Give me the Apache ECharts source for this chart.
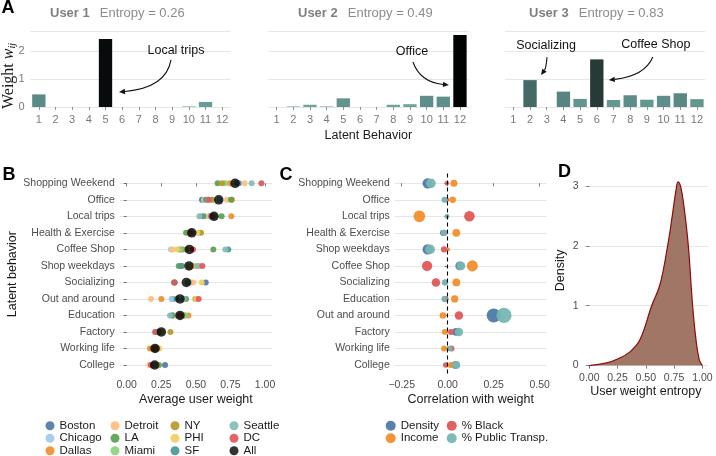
<!DOCTYPE html>
<html><head><meta charset="utf-8">
<script src="https://cdn.jsdelivr.net/npm/echarts@6/dist/echarts.min.js"></script>
<style>html,body{margin:0;padding:0;background:#fff}#c{width:716px;height:456px}</style>
</head><body><div id="c"></div>
<script>
// ---------- data ----------
const behaviorTicks = ['1','2','3','4','5','6','7','8','9','10','11','12'];
const user1Weights = [0.45, 0, 0, 0, 2.43, 0, 0, 0, 0, 0.02, 0.18, 0];
const user2Weights = [0, 0.02, 0.08, 0.02, 0.31, 0, 0, 0.08, 0.10, 0.40, 0.37, 2.57];
const user3Weights = [0, 0.96, 0, 0.55, 0.29, 1.70, 0.25, 0.42, 0.26, 0.40, 0.49, 0.28];
const userTitles = ['User 1', 'User 2', 'User 3'];
const userEntropies = ['0.26', '0.49', '0.83'];

const behaviorsB = ['Shopping Weekend','Office','Local trips','Health & Exercise','Coffee Shop','Shop weekdays','Socializing','Out and around','Education','Factory','Working life','College'];
const cityNames = ['Boston','Chicago','Dallas','Detroit','LA','Miami','NY','PHI','SF','Seattle','DC'];
const weightBoston  = [0.81, 0.544, 0.60, 0.46, 0.40, 0.46, 0.571, 0.33, 0.33, 0.217, 0.20, 0.277];
const weightChicago = [0.79, 0.674, 0.597, 0.522, 0.32, 0.508, 0.44, 0.325, 0.36, 0.23, 0.21, 0.19];
const weightDallas  = [0.746, 0.761, 0.756, 0.45, 0.38, 0.48, 0.46, 0.25, 0.446, 0.24, 0.168, 0.18];
const weightDetroit = [0.852, 0.725, 0.535, 0.446, 0.33, 0.525, 0.481, 0.176, 0.337, 0.25, 0.21, 0.164];
const weightLA      = [0.657, 0.754, 0.686, 0.429, 0.626, 0.376, 0.347, 0.429, 0.42, 0.24, 0.20, 0.233];
const weightMiami   = [0.713, 0.624, 0.633, 0.46, 0.392, 0.45, 0.44, 0.41, 0.424, 0.25, 0.21, 0.22];
const weightNY      = [0.689, 0.614, 0.62, 0.537, 0.43, 0.399, 0.443, 0.496, 0.38, 0.316, 0.185, 0.22];
const weightPHI     = [0.78, 0.559, 0.566, 0.51, 0.361, 0.47, 0.542, 0.503, 0.337, 0.26, 0.236, 0.21];
const weightSF      = [0.80, 0.573, 0.554, 0.47, 0.734, 0.394, 0.342, 0.36, 0.328, 0.23, 0.20, 0.20];
const weightSeattle = [0.903, 0.59, 0.525, 0.48, 0.713, 0.513, 0.45, 0.41, 0.313, 0.205, 0.21, 0.19];
const weightDC      = [0.973, 0.592, 0.611, 0.46, 0.479, 0.547, 0.345, 0.52, 0.39, 0.207, 0.21, 0.175];
const weightAll     = [0.783, 0.665, 0.631, 0.47, 0.453, 0.45, 0.431, 0.385, 0.385, 0.25, 0.205, 0.202];
const weightTicks = [0, 0.25, 0.5, 0.75, 1];

const behaviorsC = ['Shopping Weekend','Office','Local trips','Health & Exercise','Shop weekdays','Coffee Shop','Socializing','Education','Out and around','Factory','Working life','College'];
const corrNames = ['Density','Income','% Black','% Public Transp.'];
const corrDensity = [-0.109, -0.012, -0.004, -0.024, -0.109, 0.065, -0.014, -0.015, 0.25, 0.045, 0.008, 0.04];
const corrIncome  = [0.034, 0.027, -0.154, 0.047, 0.002, 0.134, 0.047, 0.038, -0.026, -0.016, -0.02, 0.018];
const corrBlack   = [-0.005, -0.002, 0.118, -0.018, -0.02, -0.112, -0.064, -0.008, 0.061, 0.018, 0.02, -0.011];
const corrTransit = [-0.091, -0.018, -0.005, -0.02, -0.096, 0.072, -0.016, -0.018, 0.306, 0.061, 0.012, 0.047];
const corrTicks = [-0.25, 0, 0.25, 0.5];

const entropyX       = [0, 0.153, 0.25, 0.36, 0.448, 0.552, 0.625, 0.693, 0.737, 0.767, 0.785, 0.808, 0.838, 0.876, 0.914, 0.944, 0.973, 1.0];
const entropyDensity = [0, 0.045, 0.11, 0.23, 0.43, 1.0, 1.35, 2.0, 2.54, 2.93, 3.07, 2.99, 2.65, 2.0, 1.0, 0.43, 0.095, 0];
const entropyTicks = [0, 0.25, 0.5, 0.75, 1];
const densityTicks = [0, 1, 2, 3];

// ---------- styling helpers ----------
const FONT = 'Liberation Sans, Arial, Helvetica, sans-serif';
const SERIF = 'Liberation Serif, Times New Roman, serif';
const cityColors = {Boston:'#4e79a7',Chicago:'#a0cbe8',Dallas:'#f28e2b',Detroit:'#ffbe7d',LA:'#59a14f',Miami:'#8cd17d',NY:'#b6992d',PHI:'#f1ce63',SF:'#499894',Seattle:'#86bcb6',DC:'#e15759',All:'#000000'};
const corrColors = ['#4e79a7','#f28e2b','#e15759','#76b7b2'];
const cityWeights = [weightBoston,weightChicago,weightDallas,weightDetroit,weightLA,weightMiami,weightNY,weightPHI,weightSF,weightSeattle,weightDC];
const corrSeries = [corrDensity, corrIncome, corrBlack, corrTransit];

function barColor(v){
  const lo=[110,168,162], t=Math.min(v/2.6,1);
  const c=lo.map(x=>Math.round(x*(1-t)));
  return 'rgb('+c.join(',')+')';
}
const gridLine = {show:true, lineStyle:{color:'#e6e6e6', width:1}};
const tickStyle = {lineStyle:{color:'#555', width:0.8}};

const grids = [
  {left:30.5, width:200, top:31.4, height:75.6},
  {left:268.3, width:200, top:31.4, height:75.6},
  {left:505, width:200.3, top:31.4, height:75.6},
  {left:119.8, width:152.2, top:173.4, height:201.5},
  {left:394.8, width:151.8, top:173.4, height:201.5},
  {left:583.6, width:124.4, top:172.8, height:195.2}
].map(g=>Object.assign({outerBoundsMode:'none', containLabel:false}, g));

const xAxes = [0,1,2].map(i=>({
  type:'category', gridIndex:i, data:behaviorTicks,
  axisLine:{show:false}, axisTick:{show:true, alignWithLabel:true, length:3, lineStyle:{color:'#777',width:0.8}},
  axisLabel:{color:'#7a7a7a', fontSize:11, margin:7, interval:0},
  name: i===1 ? 'Latent Behavior' : '', nameLocation:'middle', nameGap:22,
  nameTextStyle:{color:'#1a1a1a', fontSize:12.5}
}));
xAxes.push({
  type:'value', gridIndex:3, min:-0.05, max:1.05,
  axisLine:{show:false}, splitLine:{show:false},
  axisTick:{show:true, length:3, customValues:weightTicks, ...tickStyle},
  axisLabel:{customValues:weightTicks, formatter:v=>v.toFixed(2), color:'#4d4d4d', fontSize:10.5, margin:5},
  name:'Average user weight', nameLocation:'middle', nameGap:18, nameTextStyle:{color:'#1a1a1a', fontSize:12.5}
});
xAxes.push({
  type:'value', gridIndex:4, min:-0.2875, max:0.5375,
  axisLine:{show:false}, splitLine:{show:false},
  axisTick:{show:true, length:3, customValues:corrTicks, ...tickStyle},
  axisLabel:{customValues:corrTicks, formatter:v=>(v<0?'\u2212':'')+Math.abs(v).toFixed(2), color:'#4d4d4d', fontSize:10.5, margin:5},
  name:'Correlation with weight', nameLocation:'middle', nameGap:18, nameTextStyle:{color:'#1a1a1a', fontSize:12.5}
});
xAxes.push({
  type:'value', gridIndex:5, min:-0.05, max:1.05,
  axisLine:{show:false}, splitLine:{show:false},
  axisTick:{show:true, length:3, customValues:entropyTicks, ...tickStyle},
  axisLabel:{customValues:entropyTicks, formatter:v=>v.toFixed(2), color:'#4d4d4d', fontSize:10.5, margin:5},
  name:'User weight entropy', nameLocation:'middle', nameGap:16, nameTextStyle:{color:'#1a1a1a', fontSize:12.5}
});

const yAxes = [0,1,2].map(i=>({
  type:'value', gridIndex:i, min:0, max:2.7, interval:1,
  axisLine:{show:false}, axisTick:{show:false}, splitLine:gridLine,
  axisLabel:{show:i===0, color:'#7a7a7a', fontSize:11, margin:6, showMaxLabel:false}
}));
const catIdx = behaviorsB.map((_,i)=>i);
yAxes.push({
  type:'value', gridIndex:3, inverse:true, min:-0.6, max:11.6,
  axisLine:{show:false}, splitLine:gridLine,
  axisTick:{show:true, length:3, customValues:catIdx, ...tickStyle},
  axisLabel:{customValues:catIdx, formatter:v=>behaviorsB[Math.round(v)], color:'#4d4d4d', fontSize:10.5, margin:5},
  name:'Latent behavior', nameLocation:'middle', nameGap:93, nameTextStyle:{color:'#1a1a1a', fontSize:12.5}
});
yAxes.push({
  type:'value', gridIndex:4, inverse:true, min:-0.6, max:11.6,
  axisLine:{show:false}, splitLine:gridLine,
  axisTick:{show:true, length:3, customValues:catIdx, ...tickStyle},
  axisLabel:{customValues:catIdx, formatter:v=>behaviorsC[Math.round(v)], color:'#4d4d4d', fontSize:10.5, margin:5}
});
yAxes.push({
  type:'value', gridIndex:5, min:-0.04, max:3.22,
  axisLine:{show:false}, splitLine:gridLine,
  axisTick:{show:true, length:3, customValues:densityTicks, ...tickStyle},
  axisLabel:{customValues:densityTicks, color:'#4d4d4d', fontSize:10.5, margin:5},
  name:'Density', nameLocation:'middle', nameGap:17, nameTextStyle:{color:'#1a1a1a', fontSize:12.5}
});

const series = [];
[user1Weights,user2Weights,user3Weights].forEach((w,i)=>{
  series.push({type:'bar', xAxisIndex:i, yAxisIndex:i, data:w, barWidth:'80%',
    itemStyle:{color:p=>barColor(p.value)}, silent:true, animation:false});
});
cityNames.forEach((c,k)=>{
  series.push({type:'scatter', name:c, xAxisIndex:3, yAxisIndex:3, symbolSize:6, clip:false,
    itemStyle:{color:cityColors[c], opacity:0.92},
    data:cityWeights[k].map((v,i)=>[v,i]), animation:false});
});
series.push({type:'scatter', name:'All', xAxisIndex:3, yAxisIndex:3, symbolSize:9.5, clip:false, z:5,
  itemStyle:{color:'#000'}, data:weightAll.map((v,i)=>[v,i]), animation:false});
corrNames.forEach((n,k)=>{
  const s = {type:'scatter', name:n, xAxisIndex:4, yAxisIndex:4, clip:false,
    symbolSize:d=>3+22*Math.sqrt(Math.abs(d[0])),
    itemStyle:{color:corrColors[k], opacity:0.95},
    data:corrSeries[k].map((v,i)=>[v,i]), animation:false};
  if(k===0){
    s.markLine = {silent:true, symbol:['none','none'], label:{show:false},
      lineStyle:{color:'#000', type:[4,3], width:1.1}, data:[{xAxis:0}], animation:false};
  }
  series.push(s);
});
series.push({type:'line', xAxisIndex:5, yAxisIndex:5, smooth:0.4, showSymbol:false,
  data:entropyX.map((x,i)=>[x, entropyDensity[i]]),
  lineStyle:{color:'#8b0a0a', width:1.2}, areaStyle:{color:'#a07667', opacity:1}, animation:false});

const legendCols = [];
const allNames = cityNames.concat(['All']);
[45.5,110.5,170.5,229.5].forEach((left,j)=>{
  legendCols.push({data:allNames.slice(j*3,j*3+3), orient:'vertical', left:left, top:419.5, height:60,
    icon:'circle', itemWidth:9, itemHeight:9, itemGap:0, selectedMode:false, padding:0,
    textStyle:{fontSize:11.5, color:'#1a1a1a', lineHeight:12.5, fontFamily:FONT}});
});
[385.7,446.7].forEach((left,j)=>{
  legendCols.push({data:corrNames.slice(j*2,j*2+2), orient:'vertical', left:left, top:419.5, height:60,
    icon:'circle', itemWidth:10, itemHeight:10, itemGap:0, selectedMode:false, padding:0,
    textStyle:{fontSize:11.5, color:'#1a1a1a', lineHeight:12.5, fontFamily:FONT}});
});

const chart = echarts.init(document.getElementById('c'), null, {renderer:'canvas'});
chart.setOption({
  backgroundColor:'#fff', animation:false,
  textStyle:{fontFamily:FONT},
  grid:grids, xAxis:xAxes, yAxis:yAxes, series:series, legend:legendCols
});

// ---------- annotations & text ----------
const g = [];
function letter(t,x,y){ g.push({type:'text', x:x, y:y, style:{text:t, font:'bold 18px '+FONT, fill:'#000', align:'center', verticalAlign:'middle'}}); }
letter('A', 8, 8); letter('B', 9, 175); letter('C', 286, 175); letter('D', 564.5, 172);
g.push({type:'text', x:8.5, y:76, rotation:Math.PI/2, style:{
  text:'{a|Weight }{b|w}{c|ij}', align:'center', verticalAlign:'middle',
  rich:{
    a:{fontFamily:SERIF, fontSize:16, lineHeight:18, fill:'#1a1a1a'},
    b:{fontFamily:SERIF, fontStyle:'italic', fontSize:16, lineHeight:18, fill:'#1a1a1a'},
    c:{fontFamily:SERIF, fontStyle:'italic', fontSize:10, lineHeight:10, verticalAlign:'bottom', fill:'#1a1a1a'}
  }}});
[50, 298, 529].forEach((x,i)=>{
  g.push({type:'text', x:x, y:13, style:{text:'{u|'+userTitles[i]+'}   {e|Entropy = '+userEntropies[i]+'}',
    verticalAlign:'middle', align:'left',
    rich:{u:{fontWeight:'bold', fontSize:13, fill:'#7f7f7f', fontFamily:FONT}, e:{fontSize:13, fill:'#8c8c8c', fontFamily:FONT}}}});
});
function anchor(gi, cat, val){ return chart.convertToPixel({xAxisIndex:gi, yAxisIndex:gi}, [cat, val]); }
function add(p,o){ return [p[0]+o[0], p[1]+o[1]]; }
function annotate(gi, cat, val, label, tOff, sOff, cOff, eOff){
  const a = anchor(gi, cat, val);
  const t = add(a,tOff), p0 = add(a,sOff), cp = add(a,cOff), p1 = add(a,eOff);
  g.push({type:'text', x:t[0], y:t[1], style:{text:label, font:'12.5px '+FONT, fill:'#111', align:'center', verticalAlign:'middle'}});
  const dx=p1[0]-cp[0], dy=p1[1]-cp[1], L=Math.hypot(dx,dy), ux=dx/L, uy=dy/L, len=6, w=2.7;
  const b=[p1[0]-ux*len, p1[1]-uy*len];
  g.push({type:'bezierCurve', shape:{x1:p0[0],y1:p0[1],cpx1:cp[0],cpy1:cp[1],x2:b[0],y2:b[1]}, style:{stroke:'#111', lineWidth:1.1, fill:null}});
  g.push({type:'polygon', shape:{points:[p1,[b[0]-uy*w,b[1]+ux*w],[b[0]+uy*w,b[1]-ux*w]]}, style:{fill:'#111'}});
}
annotate(0, '5', user1Weights[4], 'Local trips', [70.5,12], [65.5,21], [60.5,49], [13.5,53]);
annotate(1, '12', user2Weights[11], 'Office', [-48,17], [-47,27], [-40,47], [-11,50]);
annotate(2, '2', user3Weights[1], 'Socializing', [16,-35], [17,-23], [16,-12], [11,-5]);
annotate(2, '6', user3Weights[5], 'Coffee Shop', [59,-14.4], [56,-2.4], [48,16.6], [12,20.6]);
chart.setOption({graphic:{elements:g}});
</script></body></html>
